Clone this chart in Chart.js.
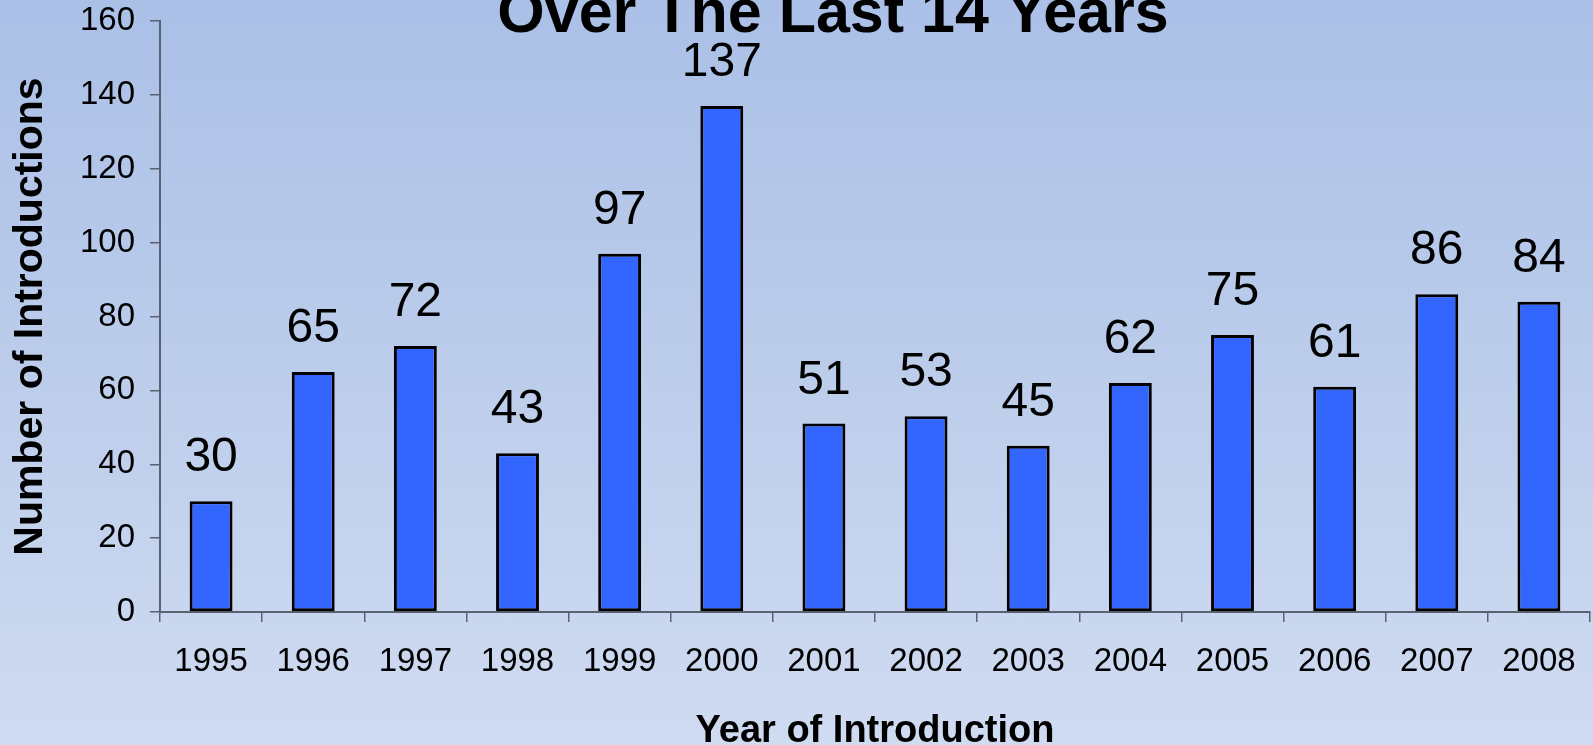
<!DOCTYPE html>
<html>
<head>
<meta charset="utf-8">
<script src="https://cdn.jsdelivr.net/npm/chart.js@4.4.1/dist/chart.umd.min.js"></script>
<style>
    html, body { margin: 0; padding: 0; }
    body {
        width: 1593px;
        height: 745px;
        overflow: hidden;
        background: linear-gradient(to bottom, #abc0e7 0%, #bccdeb 50%, #cfdbf1 100%);
    }
    #wrap { width: 1593px; height: 745px; }
</style>
</head>
<body>
<div id="wrap"><canvas id="introChart"></canvas></div>
<script>
// datos del grafico
const years = ['1995', '1996', '1997', '1998', '1999', '2000', '2001',
    '2002', '2003', '2004', '2005', '2006', '2007', '2008'];
const introductions = [30, 65, 72, 43, 97, 137, 51, 53, 45, 62, 75, 61, 86, 84];
const yTicks = [0, 20, 40, 60, 80, 100, 120, 140, 160];
const chartTitle = 'Over The Last 14 Years';
const xTitle = 'Year of Introduction';
const yTitle = 'Number of Introductions';

const FONT = '"Liberation Sans", Arial, sans-serif';
const AXIS = '#5a6272';

// etiquetas encima de cada barra + titulo principal
const barLabels = {
    id: 'barLabels',
    afterDatasetsDraw(chart) {
        const ctx = chart.ctx;
        const meta = chart.getDatasetMeta(0);
        ctx.save();
        ctx.fillStyle = '#000';
        ctx.font = `48px ${FONT}`;
        ctx.textAlign = 'center';
        ctx.textBaseline = 'alphabetic';
        meta.data.forEach((bar, i) => {
            ctx.fillText(String(introductions[i]), bar.x, bar.y - 30);
        });
        ctx.font = `bold 61px ${FONT}`;
        ctx.fillText(chartTitle, 833, 32);
        ctx.restore();
    }
};

// quitar el relleno automatico de las escalas
const noPad = (scale) => {
    scale.paddingTop = 0;
    scale.paddingBottom = 0;
    scale.paddingLeft = 0;
    scale.paddingRight = 0;
};

const renderChart = () => {
    const ctx = document.getElementById('introChart').getContext('2d');
    new Chart(ctx, {
        type: 'bar',
        data: {
            labels: years,
            datasets: [{
                data: introductions,
                backgroundColor: '#3366ff',
                borderColor: '#000000',
                borderWidth: 3,
                borderSkipped: false,
                barPercentage: 0.42,
                categoryPercentage: 1.0
            }]
        },
        options: {
            responsive: true,
            maintainAspectRatio: false,
            animation: false,
            layout: {padding: {top: 21, right: 3, left: 0, bottom: 0}},
            plugins: {
                legend: {display: false},
                tooltip: {enabled: false}
            },
            scales: {
                x: {
                    afterFit(scale) { scale.height = 133; noPad(scale); },
                    border: {display: true, color: AXIS, width: 2},
                    grid: {
                        display: true,
                        drawOnChartArea: false,
                        drawTicks: true,
                        tickLength: 10,
                        color: AXIS,
                        lineWidth: 1.5
                    },
                    ticks: {
                        color: '#000',
                        font: {family: FONT, size: 33, lineHeight: 1.2},
                        padding: 20,
                        maxRotation: 0,
                        autoSkip: false
                    },
                    title: {
                        display: true,
                        text: xTitle,
                        color: '#000',
                        font: {family: FONT, size: 38, weight: 'bold', lineHeight: 0.7},
                        padding: 0
                    }
                },
                y: {
                    min: 0,
                    max: 160,
                    afterFit(scale) { scale.width = 160; noPad(scale); },
                    afterBuildTicks(scale) {
                        scale.ticks = yTicks.map(v => ({value: v}));
                    },
                    border: {display: true, color: AXIS, width: 2},
                    grid: {
                        display: true,
                        drawOnChartArea: false,
                        drawTicks: true,
                        tickLength: 10,
                        color: AXIS,
                        lineWidth: 1.5
                    },
                    ticks: {
                        color: '#000',
                        font: {family: FONT, size: 33},
                        padding: 15
                    },
                    title: {
                        display: true,
                        text: yTitle,
                        color: '#000',
                        font: {family: FONT, size: 41, weight: 'bold', lineHeight: 1.2},
                        padding: {top: 6, bottom: 0}
                    }
                }
            }
        },
        plugins: [barLabels]
    });
};

document.addEventListener('DOMContentLoaded', renderChart);
</script>
</body>
</html>
